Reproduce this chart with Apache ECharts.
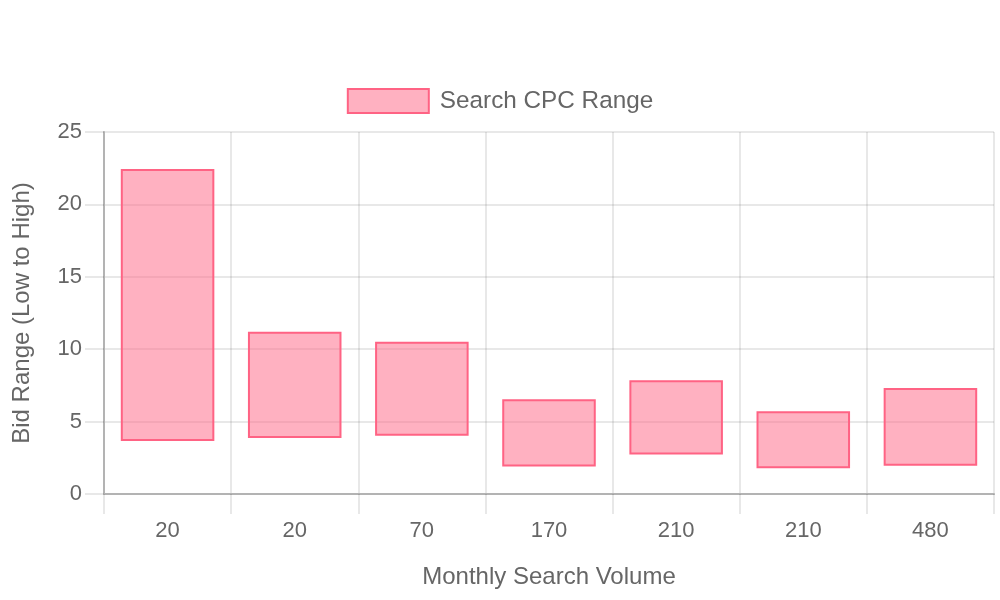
<!DOCTYPE html>
<html>
<head>
<meta charset="utf-8">
<script src="https://cdn.jsdelivr.net/npm/echarts@6/dist/echarts.min.js"></script>
<style>
html,body{margin:0;padding:0;background:#fff;}
#chart{width:1000px;height:600px;}
</style>
</head>
<body>
<div id="chart"></div>
<script>
const categories = ['20', '20', '70', '170', '210', '210', '480'];
const lowValues = [3.73, 3.94, 4.10, 1.97, 2.80, 1.85, 2.02];
const highValues = [22.38, 11.13, 10.44, 6.47, 7.78, 5.64, 7.25];
const yTicks = [0, 5, 10, 15, 20, 25];
const seriesName = 'Search CPC Range';

const FONT = '"Liberation Sans", Arial, Helvetica, sans-serif';
const FILL = 'rgba(255,99,132,0.5)';
const BORDER = 'rgb(255,99,132)';
const GRID = 'rgba(0,0,0,0.09)';
const AXIS = '#b3b3b3';

const data = categories.map((c, i) => [i, lowValues[i], highValues[i]]);

const chart = echarts.init(document.getElementById('chart'), null, {renderer: 'canvas'});
chart.setOption({
  animation: false,
  textStyle: {fontFamily: FONT},
  legend: {
    top: 83,
    left: 'center',
    itemWidth: 81,
    itemHeight: 24,
    data: [{name: seriesName, icon: 'rect', itemStyle: {color: FILL, borderColor: BORDER, borderWidth: 2}}],
    textStyle: {fontSize: 24.3, color: '#666', fontFamily: FONT, padding: [0, 0, 0, 6]}
  },
  grid: {left: 104, right: 6, top: 132, bottom: 106, containLabel: false},
  xAxis: {
    type: 'category',
    data: categories.map((c, i) => String(i)),
    boundaryGap: true,
    name: 'Monthly Search Volume',
    nameLocation: 'middle',
    nameGap: 71,
    nameTextStyle: {fontSize: 24, color: '#666', fontFamily: FONT},
    axisLine: {show: true, lineStyle: {color: AXIS, width: 2}},
    axisTick: {show: true, length: 20, lineStyle: {color: GRID, width: 2}},
    axisLabel: {
      fontSize: 22, color: '#666', fontFamily: FONT, margin: 26,
      formatter: (v) => categories[+v]
    },
    splitLine: {show: true, lineStyle: {color: GRID, width: 2}}
  },
  yAxis: {
    type: 'value',
    min: 0,
    max: 25,
    interval: 5,
    name: 'Bid Range (Low to High)',
    nameLocation: 'middle',
    nameGap: 70,
    nameRotate: 90,
    nameTextStyle: {fontSize: 24, color: '#666', fontFamily: FONT},
    axisLine: {show: true, lineStyle: {color: AXIS, width: 2}},
    axisTick: {show: true, length: 19, lineStyle: {color: GRID, width: 2}},
    axisLabel: {
      fontSize: 22, color: '#666', fontFamily: FONT, margin: 22,
      formatter: (v) => yTicks.includes(v) ? String(v) : ''
    },
    splitLine: {show: true, lineStyle: {color: GRID, width: 2}}
  },
  series: [{
    name: seriesName,
    type: 'custom',
    itemStyle: {color: FILL, borderColor: BORDER, borderWidth: 2},
    encode: {x: 0, y: [1, 2]},
    data: data,
    renderItem: function (params, api) {
      const idx = api.value(0);
      const lo = api.coord([idx, api.value(1)]);
      const hi = api.coord([idx, api.value(2)]);
      const bandW = api.size([1, 0])[0];
      const w = bandW * 0.72;
      return {
        type: 'rect',
        shape: {x: lo[0] - w / 2, y: hi[1], width: w, height: lo[1] - hi[1]},
        style: {fill: FILL, stroke: BORDER, lineWidth: 2}
      };
    }
  }]
});
</script>
</body>
</html>
